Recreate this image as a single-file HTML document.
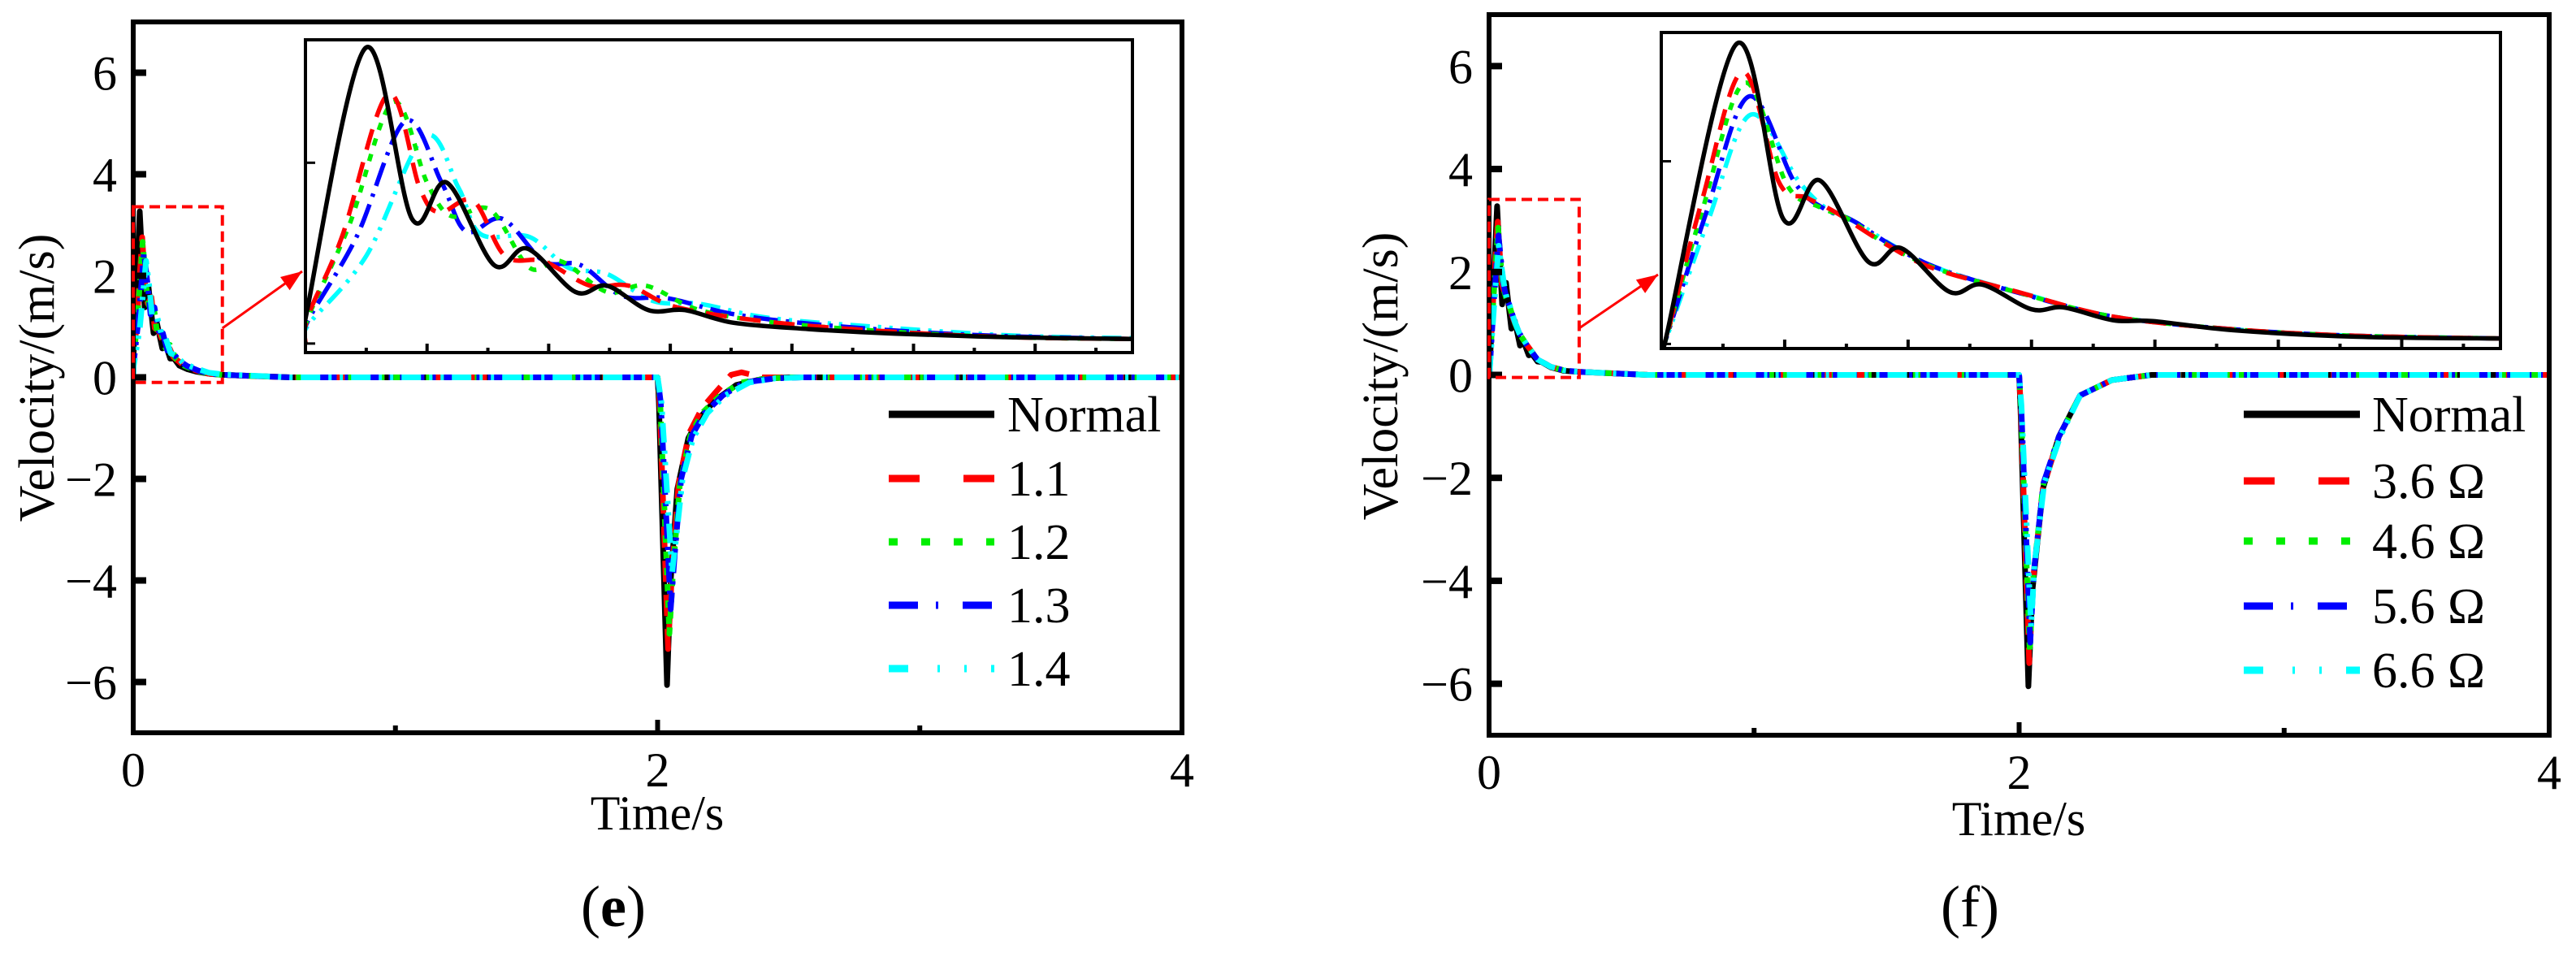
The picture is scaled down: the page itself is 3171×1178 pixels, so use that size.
<!DOCTYPE html>
<html><head><meta charset="utf-8"><style>
html,body{margin:0;padding:0;background:#fff}
svg{display:block;font-family:"Liberation Serif","DejaVu Serif","Times New Roman",serif}
text{font-family:"Liberation Serif","DejaVu Serif","Times New Roman",serif}
</style></head><body>
<svg id="fig" width="3171" height="1178" viewBox="0 0 3171 1178" xmlns="http://www.w3.org/2000/svg"></svg>
<script>
// ---- Axis data ----
const yTicks = [-6, -4, -2, 0, 2, 4, 6];
const yTickLabels = ["\u22126", "\u22124", "\u22122", "0", "2", "4", "6"];
const xMajorTicks = [0, 2, 4];
const xMajorLabels = ["0", "2", "4"];
const xMinorTicks = [1, 3];
const insetXTicks = [0.025,0.05,0.075,0.1,0.125,0.15,0.175,0.2,0.225,0.25,0.275,0.3,0.325];
const insetYTicks = [0, 2];
const legendLabelsE = ["Normal", "1.1", "1.2", "1.3", "1.4"];
const legendLabelsF = ["Normal", "3.6 \u03a9", "4.6 \u03a9", "5.6 \u03a9", "6.6 \u03a9"];

// ---- Panel (e): early response (t in s, v in m/s) ----
const eNormalEarly = [[0,0],[0.0007,0.37],[0.0247,3.27],[0.0438,1.38],[0.0581,1.78],[0.0775,0.87],[0.0912,1.05],[0.111,0.57],[0.124,0.64],[0.141,0.37],[0.156,0.37],[0.176,0.23],[0.207,0.16],[0.242,0.11],[0.29,0.07],[0.34,0.05]];
const e11Early = [[0,0],[0.001,0.3],[0.015,1.18],[0.034,2.76],[0.047,1.72],[0.055,1.45],[0.069,1.58],[0.082,0.97],[0.098,0.91],[0.117,0.64],[0.133,0.64],[0.153,0.40],[0.194,0.23],[0.242,0.13],[0.29,0.07],[0.34,0.05]];
const e12Early = [[0,0],[0.001,0.28],[0.018,1.31],[0.036,2.67],[0.05,1.78],[0.06,1.41],[0.076,1.48],[0.092,0.84],[0.105,0.91],[0.124,0.57],[0.14,0.64],[0.162,0.37],[0.194,0.23],[0.242,0.13],[0.29,0.07],[0.34,0.05]];
const e13Early = [[0,0],[0.001,0.25],[0.021,1.18],[0.041,2.46],[0.056,1.78],[0.066,1.24],[0.081,1.38],[0.098,0.91],[0.113,0.87],[0.13,0.53],[0.149,0.50],[0.175,0.33],[0.207,0.22],[0.25,0.13],[0.29,0.08],[0.34,0.05]];
const e14Early = [[0,0],[0.001,0.2],[0.025,0.97],[0.049,2.29],[0.063,1.72],[0.072,1.21],[0.092,1.18],[0.108,0.84],[0.124,0.77],[0.143,0.47],[0.162,0.44],[0.189,0.29],[0.227,0.20],[0.29,0.09],[0.34,0.06]];
// ---- Panel (e): braking spike ----
const eNormalSpike = [[2.0,0],[2.005,-0.5],[2.036,-6.06],[2.05,-4.0],[2.075,-2.2],[2.117,-1.2],[2.16,-0.8],[2.22,-0.45],[2.3,-0.15],[2.4,-0.03],[2.5,0]];
const e11Spike = [[2.0,0],[2.008,-0.5],[2.04,-5.35],[2.055,-3.8],[2.08,-2.1],[2.12,-1.1],[2.17,-0.6],[2.22,-0.3],[2.28,0.05],[2.32,0.1],[2.4,0],[2.5,0]];
const e12Spike = [[2.0,0],[2.01,-0.5],[2.045,-5.05],[2.06,-3.7],[2.085,-2.1],[2.125,-1.15],[2.17,-0.7],[2.24,-0.35],[2.32,-0.1],[2.42,-0.02],[2.5,0]];
const e13Spike = [[2.0,0],[2.012,-0.5],[2.05,-4.57],[2.065,-3.5],[2.09,-2.0],[2.13,-1.15],[2.18,-0.7],[2.25,-0.35],[2.33,-0.1],[2.45,-0.02],[2.55,0]];
const e14Spike = [[2.0,0],[2.015,-0.5],[2.055,-3.85],[2.07,-3.2],[2.095,-2.0],[2.135,-1.2],[2.19,-0.7],[2.26,-0.35],[2.35,-0.1],[2.45,-0.02],[2.55,0]];

// ---- Panel (f): early response ----
const fNormalEarly = [[0,0],[0.0016,0.03],[0.0303,3.28],[0.0494,1.37],[0.0642,1.79],[0.0839,0.9],[0.0971,1.05],[0.1168,0.57],[0.13,0.65],[0.15,0.38],[0.163,0.40],[0.183,0.26],[0.199,0.25],[0.232,0.15],[0.281,0.08],[0.34,0.06]];
const f36Early = [[0,0],[0.0016,0.03],[0.0165,1.57],[0.0329,2.98],[0.0477,1.77],[0.059,1.60],[0.0707,1.44],[0.0905,1.10],[0.11,0.83],[0.143,0.58],[0.183,0.30],[0.232,0.16],[0.281,0.09],[0.34,0.06]];
const f46Early = [[0,0],[0.0016,0.03],[0.017,1.5],[0.0339,2.86],[0.051,1.74],[0.064,1.50],[0.075,1.38],[0.092,1.08],[0.112,0.82],[0.145,0.56],[0.183,0.30],[0.232,0.16],[0.281,0.09],[0.34,0.06]];
const f56Early = [[0,0],[0.0016,0.03],[0.018,1.42],[0.0355,2.71],[0.054,1.77],[0.066,1.48],[0.077,1.36],[0.094,1.07],[0.113,0.82],[0.146,0.55],[0.183,0.30],[0.232,0.16],[0.281,0.09],[0.34,0.06]];
const f66Early = [[0,0],[0.0016,0.03],[0.019,1.35],[0.0362,2.51],[0.056,1.77],[0.068,1.46],[0.079,1.33],[0.095,1.06],[0.114,0.81],[0.147,0.55],[0.183,0.30],[0.232,0.16],[0.281,0.09],[0.34,0.06]];
// ---- Panel (f): braking spike ----
const fNormalSpike = [[2.0,0],[2.005,-0.6],[2.035,-6.05],[2.05,-4.2],[2.09,-2.2],[2.15,-1.2],[2.23,-0.4],[2.35,-0.1],[2.5,0]];
const f36Spike = [[2.0,0],[2.006,-0.6],[2.038,-5.6],[2.052,-4.0],[2.09,-2.2],[2.15,-1.2],[2.23,-0.4],[2.35,-0.1],[2.5,0]];
const f46Spike = [[2.0,0],[2.007,-0.6],[2.04,-5.4],[2.054,-3.9],[2.09,-2.15],[2.15,-1.2],[2.23,-0.4],[2.35,-0.1],[2.5,0]];
const f56Spike = [[2.0,0],[2.008,-0.6],[2.042,-5.2],[2.056,-3.8],[2.092,-2.1],[2.15,-1.2],[2.23,-0.4],[2.35,-0.1],[2.5,0]];
const f66Spike = [[2.0,0],[2.009,-0.6],[2.045,-4.9],[2.058,-3.7],[2.095,-2.1],[2.155,-1.2],[2.23,-0.4],[2.35,-0.1],[2.5,0]];

const NS = "http://www.w3.org/2000/svg";
const FONT = "'Liberation Serif', 'DejaVu Serif', 'Times New Roman', serif";
const svg = document.getElementById("fig");
function mk(tag, attrs, parent){
  const el = document.createElementNS(NS, tag);
  for (const k in attrs) el.setAttribute(k, attrs[k]);
  if (tag === "text") el.setAttribute("font-family", FONT);
  (parent||svg).appendChild(el);
  return el;
}
const styles = [
  {color:"#000000", dash:null, lg:null},
  {color:"#ff0000", dash:"26 16", lg:"38 54"},
  {color:"#00ee00", dash:"9 11", lg:"11 29"},
  {color:"#0000ff", dash:"30 10 4 10", lg:"36 22 3 30"},
  {color:"#00ffff", dash:"24 10 4 10 4 10", lg:"24 36 3 30 3 30"}
];

function lineD(pts, sx, sy){
  return pts.map((p,i)=>(i?"L":"M")+sx(p[0]).toFixed(1)+" "+sy(p[1]).toFixed(1)).join("");
}
// smooth path (Catmull-Rom -> cubic Bezier)
function smoothD(pts, sx, sy){
  const P = pts.map(p=>[sx(p[0]), sy(p[1])]);
  let d = "M"+P[0][0].toFixed(1)+" "+P[0][1].toFixed(1);
  for (let i=0;i<P.length-1;i++){
    const p0 = P[Math.max(0,i-1)], p1 = P[i], p2 = P[i+1], p3 = P[Math.min(P.length-1,i+2)];
    const k = 1/6;
    const c1 = [p1[0]+(p2[0]-p0[0])*k, p1[1]+(p2[1]-p0[1])*k];
    const c2 = [p2[0]-(p3[0]-p1[0])*k, p2[1]-(p3[1]-p1[1])*k];
    d += "C"+c1[0].toFixed(1)+" "+c1[1].toFixed(1)+" "+c2[0].toFixed(1)+" "+c2[1].toFixed(1)+" "+p2[0].toFixed(1)+" "+p2[1].toFixed(1);
  }
  return d;
}

function panel(cfg){
  const g = mk("g", {});
  
  
  const sx = t => cfg.left + t/4*(cfg.right-cfg.left);
  const sy = v => cfg.bottom - (v+7)/14*(cfg.bottom-cfg.top);
  const clipId = cfg.name+"-clip";
  const defs = mk("defs", {}, g);
  const cp = mk("clipPath", {id:clipId}, defs);
  mk("rect", {x:cfg.left, y:cfg.top, width:cfg.right-cfg.left, height:cfg.bottom-cfg.top}, cp);
  const icp = mk("clipPath", {id:clipId+"-in"}, defs);
  const I = cfg.inset;
  mk("rect", {x:I.x0, y:I.y0, width:I.x1-I.x0, height:I.y1-I.y0}, icp);

  const sg = mk("g", {"clip-path":"url(#"+clipId+")"}, g);
  for (let i=0;i<5;i++){
    const st = styles[i];
    const pts = cfg.early[i].concat([[0.6,0]], cfg.spike[i], [[4,0]]);
    const p = mk("path", {d:lineD(pts,sx,sy), fill:"none", stroke:st.color, "stroke-width":7, "stroke-linejoin":"round"}, sg);
    if (st.dash) p.setAttribute("stroke-dasharray", st.dash);
    
    
  }
  yTicks.forEach((v,i)=>{
    const t = mk("line", {x1:cfg.left, x2:cfg.left+16, y1:sy(v), y2:sy(v), stroke:"#000", "stroke-width":8}, g);
    
    
    const l = mk("text", {x:cfg.left-20, y:sy(v)+21, "font-size":60, "text-anchor":"end"}, g);
    l.textContent = yTickLabels[i];
    
    
  });
  xMajorTicks.forEach((v,i)=>{
    const t = mk("line", {x1:sx(v), x2:sx(v), y1:cfg.bottom, y2:cfg.bottom-16, stroke:"#000", "stroke-width":6}, g);
    
    
    const l = mk("text", {x:sx(v), y:cfg.bottom+66, "font-size":60, "text-anchor":"middle"}, g);
    l.textContent = xMajorLabels[i];
    
    
  });
  xMinorTicks.forEach(v=>{
    const t = mk("line", {x1:sx(v), x2:sx(v), y1:cfg.bottom, y2:cfg.bottom-9, stroke:"#000", "stroke-width":6}, g);
    
    
  });
  const frame = mk("rect", {x:cfg.left, y:cfg.top, width:cfg.right-cfg.left, height:cfg.bottom-cfg.top, fill:"none", stroke:"#000", "stroke-width":6}, g);
  
  

  const zb = mk("rect", {x:sx(0), y:sy(I.vMax), width:sx(I.tMax)-sx(0), height:sy(I.vMin)-sy(I.vMax), fill:"none", stroke:"#ff0000", "stroke-width":4, "stroke-dasharray":"13 7"}, g);
  
  
  const ax0 = sx(I.tMax), ay0 = cfg.arrowY0, ax1 = I.x0-4, ay1 = cfg.arrowY1;
  const ar = mk("line", {x1:ax0, y1:ay0, x2:ax1, y2:ay1, stroke:"#ff0000", "stroke-width":3}, g);
  
  
  const ang = Math.atan2(ay1-ay0, ax1-ax0), L=26, Wd=10;
  const hx = ax1-L*Math.cos(ang), hy = ay1-L*Math.sin(ang);
  const ah = mk("polygon", {points:`${ax1},${ay1} ${hx+Wd*Math.sin(ang)},${hy-Wd*Math.cos(ang)} ${hx-Wd*Math.sin(ang)},${hy+Wd*Math.cos(ang)}`, fill:"#ff0000"}, g);
  
  

  const ig = mk("g", {}, g);
  
  
  mk("rect", {x:I.x0, y:I.y0, width:I.x1-I.x0, height:I.y1-I.y0, fill:"#fff"}, ig);
  const ix = t => I.x0 + t/I.tMax*(I.x1-I.x0);
  const iy = v => I.y1 - (v-I.vMin)/(I.vMax-I.vMin)*(I.y1-I.y0);
  const isg = mk("g", {"clip-path":"url(#"+clipId+"-in)"}, ig);
  for (let i=4;i>=0;i--){
    const st = styles[i];
    const p = mk("path", {d:smoothD(cfg.early[i],ix,iy), fill:"none", stroke:st.color, "stroke-width":5.5, "stroke-linejoin":"round"}, isg);
    if (st.dash) p.setAttribute("stroke-dasharray", st.dash);
    
    
  }
  insetXTicks.forEach(t=>{
    const major = Math.abs(t/0.05-Math.round(t/0.05))<1e-6;
    const tk = mk("line", {x1:ix(t), x2:ix(t), y1:I.y1, y2:I.y1-(major?11:6), stroke:"#000", "stroke-width":4}, ig);
    
    
  });
  insetYTicks.forEach(v=>{
    const tk = mk("line", {x1:I.x0, x2:I.x0+12, y1:iy(v), y2:iy(v), stroke:"#000", "stroke-width":3}, ig);
    
    
  });
  mk("rect", {x:I.x0, y:I.y0, width:I.x1-I.x0, height:I.y1-I.y0, fill:"none", stroke:"#000", "stroke-width":4}, ig);

  const lg = mk("g", {}, g);
  
  
  cfg.labels.forEach((lab,i)=>{
    const st = styles[i];
    const y = cfg.legendRows[i];
    const ln = mk("line", {x1:cfg.legendX, x2:cfg.legendX+cfg.legendLen, y1:y, y2:y, stroke:st.color, "stroke-width":9}, lg);
    if (st.lg) ln.setAttribute("stroke-dasharray", st.lg);
    
    
    const tx = mk("text", {x:cfg.legendTextX, y:y+21, "font-size":62}, lg);
    tx.textContent = lab;
    
    
  });

  const yt = mk("text", {x:0, y:0, "font-size":62, "text-anchor":"middle", transform:`translate(${cfg.ylabelX},${cfg.ylabelY}) rotate(-90)`}, g);
  yt.textContent = "Velocity/(m/s)";
  
  
  const xt = mk("text", {x:cfg.xtitleX, y:cfg.xtitleY, "font-size":60, "text-anchor":"middle"}, g);
  xt.textContent = "Time/s";
  
  
  const cap = mk("text", {x:cfg.capX, y:cfg.capY, "font-size":72, "text-anchor":"middle"}, g);
  cap.innerHTML = cfg.capBold ? '(<tspan font-weight="bold">'+cfg.capLetter+'</tspan>)' : '('+cfg.capLetter+')';
  
  
}

panel({name:"panel-e", left:164, right:1455, top:27, bottom:902,
  inset:{x0:376, x1:1394, y0:49, y1:434, tMax:0.34, vMin:-0.1, vMax:3.36},
  arrowY0:404, arrowY1:334,
  early:[eNormalEarly,e11Early,e12Early,e13Early,e14Early],
  spike:[eNormalSpike,e11Spike,e12Spike,e13Spike,e14Spike],
  labels:legendLabelsE, legendX:1094, legendLen:130, legendTextX:1240, legendRows:[510,589,667,745,823],
  ylabelX:66, ylabelY:465, xtitleX:809, xtitleY:1021, capX:755, capY:1140, capLetter:"e", capBold:true});
panel({name:"panel-f", left:1833, right:3138, top:18, bottom:905,
  inset:{x0:2045, x1:3078, y0:40, y1:429, tMax:0.34, vMin:-0.05, vMax:3.41},
  arrowY0:404, arrowY1:338,
  early:[fNormalEarly,f36Early,f46Early,f56Early,f66Early],
  spike:[fNormalSpike,f36Spike,f46Spike,f56Spike,f66Spike],
  labels:legendLabelsF, legendX:2762, legendLen:143, legendTextX:2920, legendRows:[510,592,666,746,825],
  ylabelX:1720, ylabelY:463, xtitleX:2485, xtitleY:1028, capX:2425, capY:1140, capLetter:"f", capBold:false});
</script>
</body></html>
